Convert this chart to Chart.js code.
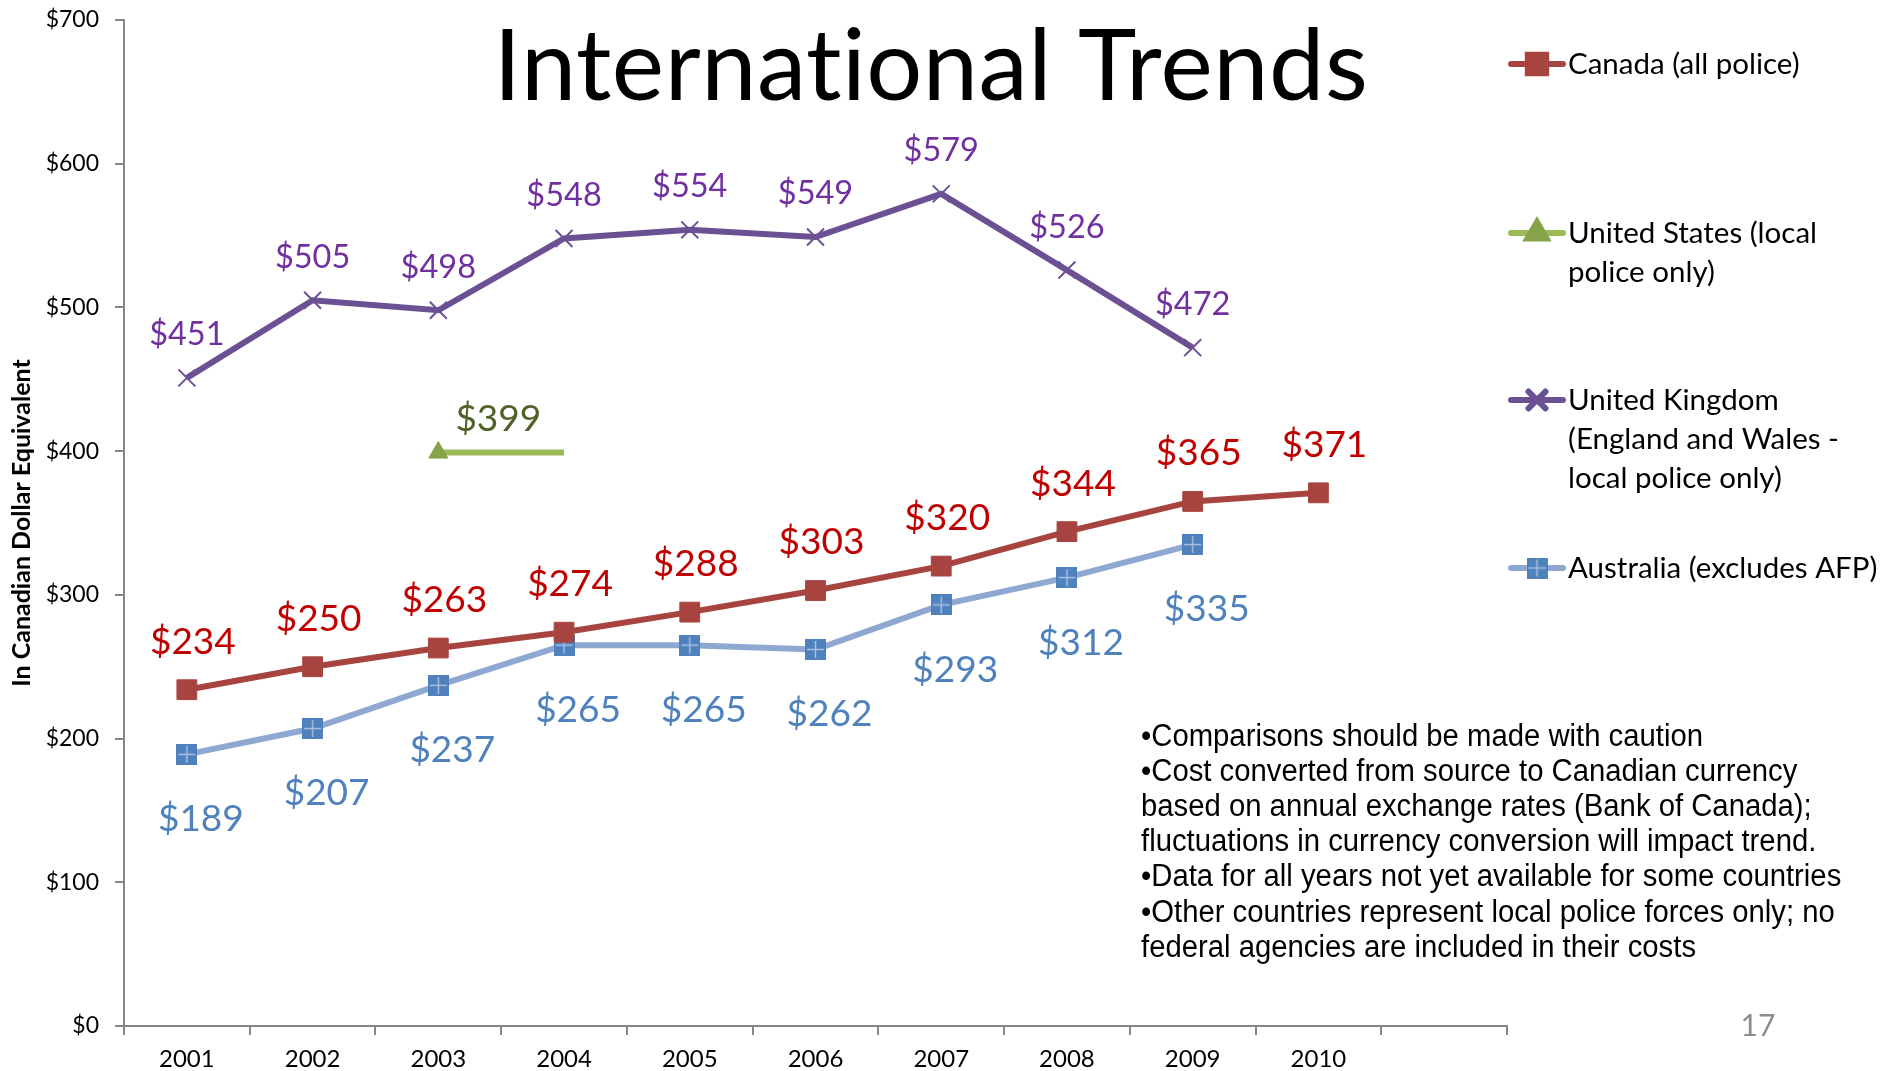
<!DOCTYPE html>
<html>
<head>
<meta charset="utf-8">
<script src="https://cdn.jsdelivr.net/npm/chart.js@4.4.1/dist/chart.umd.min.js"></script>
<style>
  html, body { margin: 0; padding: 0; background: #fff; }
  #wrap { position: relative; width: 1884px; height: 1071px; }
</style>
</head>
<body>
<div id="wrap"><canvas id="chart" width="1884" height="1071"></canvas></div>
<script>
// Chart data
const years = ['2001', '2002', '2003', '2004', '2005', '2006', '2007', '2008', '2009', '2010', ''];
const canada = [234, 250, 263, 274, 288, 303, 320, 344, 365, 371, null];
const unitedStates = [null, null, 399, 399, null, null, null, null, null, null, null];
const unitedKingdom = [451, 505, 498, 548, 554, 549, 579, 526, 472, null, null];
const australia = [189, 207, 237, 265, 265, 262, 293, 312, 335, null, null];
const yMin = 0;
const yMax = 700;
const yStep = 100;

const notes = [
  '\u2022Comparisons should be made with caution',
  '\u2022Cost converted from source to Canadian currency',
  'based on annual exchange rates (Bank of Canada);',
  'fluctuations in currency conversion will impact trend.',
  '\u2022Data for all years not yet available for some countries',
  '\u2022Other countries represent local police forces only; no',
  'federal agencies are included in their costs'
];

// Australia marker: blue square with a light cross
function makeCrossSquare() {
  const c = document.createElement('canvas');
  c.width = 21; c.height = 21;
  const g = c.getContext('2d');
  g.fillStyle = '#4f81bd';
  g.fillRect(0, 0, 21, 21);
  g.strokeStyle = '#a9c0e0';
  g.lineWidth = 1.5;
  g.beginPath();
  g.moveTo(10.5, 2); g.lineTo(10.5, 19);
  g.moveTo(2, 10.5); g.lineTo(19, 10.5);
  g.stroke();
  return c;
}
const ausMarker = makeCrossSquare();

// draws the $ value labels next to points
const valueLabels = {
  id: 'valueLabels',
  afterDatasetsDraw(chart) {
    const ctx = chart.ctx;
    chart.data.datasets.forEach((ds, i) => {
      const meta = chart.getDatasetMeta(i);
      const lab = ds.valueLabel;
      meta.data.forEach((pt, j) => {
        const v = ds.data[j];
        if (v == null || pt.options.radius === 0) return;
        ctx.save();
        ctx.font = lab.font;
        ctx.fillStyle = lab.color;
        ctx.textAlign = 'center';
        ctx.textBaseline = 'middle';
        ctx.fillText('$' + v, pt.x + lab.dx, pt.y + lab.dy);
        ctx.restore();
      });
    });
  }
};

// title, legend, notes and page number
const slideExtras = {
  id: 'slideExtras',
  afterDraw(chart) {
    const ctx = chart.ctx;
    ctx.save();

    // title (small letter spacing keeps Lato from using the "ti" ligature)
    ctx.font = '99px Lato';
    ctx.letterSpacing = '0.5px';
    ctx.fillStyle = '#000';
    ctx.textAlign = 'center';
    ctx.textBaseline = 'middle';
    ctx.fillText('International Trends', 931, 68);
    ctx.letterSpacing = '0px';

    // legend
    const legendRows = [
      { ds: 0, y: 64, lines: ['Canada (all police)'] },
      { ds: 1, y: 233, lines: ['United States (local', 'police only)'] },
      { ds: 2, y: 400, lines: ['United Kingdom', '(England and Wales -', 'local police only)'] },
      { ds: 3, y: 568, lines: ['Australia (excludes AFP)'] }
    ];
    legendRows.forEach((row) => {
      const ds = chart.data.datasets[row.ds];
      ctx.strokeStyle = ds.borderColor;
      ctx.lineWidth = 6;
      ctx.lineCap = 'round';
      ctx.beginPath();
      ctx.moveTo(1511, row.y);
      ctx.lineTo(1563, row.y);
      ctx.stroke();
      ctx.fillStyle = ds.pointBackgroundColor;
      ctx.strokeStyle = ds.pointBorderColor;
      Chart.helpers.drawPoint(ctx, {
        pointStyle: ds.pointStyle,
        radius: ds.legendRadius,
        borderWidth: ds.pointBorderWidth,
        rotation: 0
      }, 1537, row.y);
      ctx.fillStyle = '#000';
      ctx.font = '29.5px Lato';
      ctx.textAlign = 'left';
      ctx.textBaseline = 'middle';
      row.lines.forEach((t, k) => ctx.fillText(t, 1568, row.y + 39 * k));
    });

    // notes, narrow sans
    ctx.font = '31px "Liberation Sans"';
    ctx.fillStyle = '#000';
    ctx.textAlign = 'left';
    ctx.textBaseline = 'middle';
    const sx = 562 / ctx.measureText(notes[0]).width;
    notes.forEach((t, k) => {
      ctx.save();
      ctx.translate(1141, 737 + 35.2 * k);
      ctx.scale(sx, 1);
      ctx.fillText(t, 0, 0);
      ctx.restore();
    });

    // page number
    ctx.font = '30px Lato';
    ctx.fillStyle = '#8c8c8c';
    ctx.textAlign = 'center';
    ctx.fillText('17', 1758, 1026);

    ctx.restore();
  }
};

new Chart(document.getElementById('chart'), {
  type: 'line',
  data: {
    labels: years,
    datasets: [
      {
        label: 'Canada (all police)',
        data: canada,
        borderColor: '#a8443f',
        borderWidth: 6,
        pointStyle: 'rect',
        pointRadius: 14,
        legendRadius: 13,
        pointBackgroundColor: '#a8443f',
        pointBorderColor: '#a8443f',
        pointBorderWidth: 1,
        valueLabel: { font: '37px Lato', color: '#c00000', dx: 6, dy: -48 }
      },
      {
        label: 'United States (local police only)',
        data: unitedStates,
        borderColor: '#9bbb59',
        borderWidth: 6,
        pointStyle: 'triangle',
        pointRadius: (c) => (c.dataIndex === 2 ? 11 : 0),
        legendRadius: 11,
        pointBackgroundColor: '#86a34a',
        pointBorderColor: '#86a34a',
        pointBorderWidth: 1,
        valueLabel: { font: '37px Lato', color: '#4f6228', dx: 60, dy: -34 }
      },
      {
        label: 'United Kingdom (England and Wales - local police only)',
        data: unitedKingdom,
        borderColor: '#6b5193',
        borderWidth: 6,
        pointStyle: 'crossRot',
        pointRadius: 12,
        legendRadius: 12,
        pointBackgroundColor: '#6b5193',
        pointBorderColor: '#6b5193',
        pointBorderWidth: 2,
        valueLabel: { font: '32.5px Lato', color: '#7030a0', dx: 0, dy: -43 }
      },
      {
        label: 'Australia (excludes AFP)',
        data: australia,
        borderColor: '#8ea8d2',
        borderWidth: 6,
        pointStyle: ausMarker,
        pointRadius: 11,
        legendRadius: 11,
        pointBackgroundColor: '#4f81bd',
        pointBorderColor: '#4f81bd',
        pointBorderWidth: 1,
        valueLabel: { font: '37px Lato', color: '#4f81bd', dx: 14, dy: 65 }
      }
    ]
  },
  options: {
    responsive: false,
    animation: false,
    spanGaps: false,
    layout: { padding: { top: 20, right: 377, left: 0, bottom: 0 } },
    plugins: {
      legend: { display: false },
      tooltip: { enabled: false }
    },
    scales: {
      x: {
        offset: true,
        grid: {
          offset: true,
          drawOnChartArea: false,
          drawTicks: true,
          tickLength: 9,
          color: '#868686',
          lineWidth: 2
        },
        border: { color: '#868686', width: 2 },
        ticks: {
          color: '#000',
          font: { family: 'Lato', size: 24 },
          padding: 10,
          maxRotation: 0,
          autoSkip: false
        },
        afterFit(scale) {
          scale.height = 45;
          scale.paddingLeft = 0;
          scale.paddingRight = 0;
        }
      },
      y: {
        min: yMin,
        max: yMax,
        grid: {
          drawOnChartArea: false,
          drawTicks: true,
          tickLength: 9,
          color: '#868686',
          lineWidth: 2
        },
        border: { color: '#868686', width: 2 },
        ticks: {
          stepSize: yStep,
          color: '#000',
          font: { family: 'Lato', size: 23 },
          padding: 16,
          callback: (v) => '$' + v
        },
        title: {
          display: true,
          text: 'In Canadian Dollar Equivalent',
          color: '#000',
          font: { family: 'Lato', size: 25, weight: 'bold' },
          padding: { top: 7, bottom: 0 }
        },
        afterFit(scale) {
          scale.width = 124;
          scale.paddingTop = 0;
          scale.paddingBottom = 0;
        }
      }
    }
  },
  plugins: [valueLabels, slideExtras]
});
</script>
</body>
</html>
